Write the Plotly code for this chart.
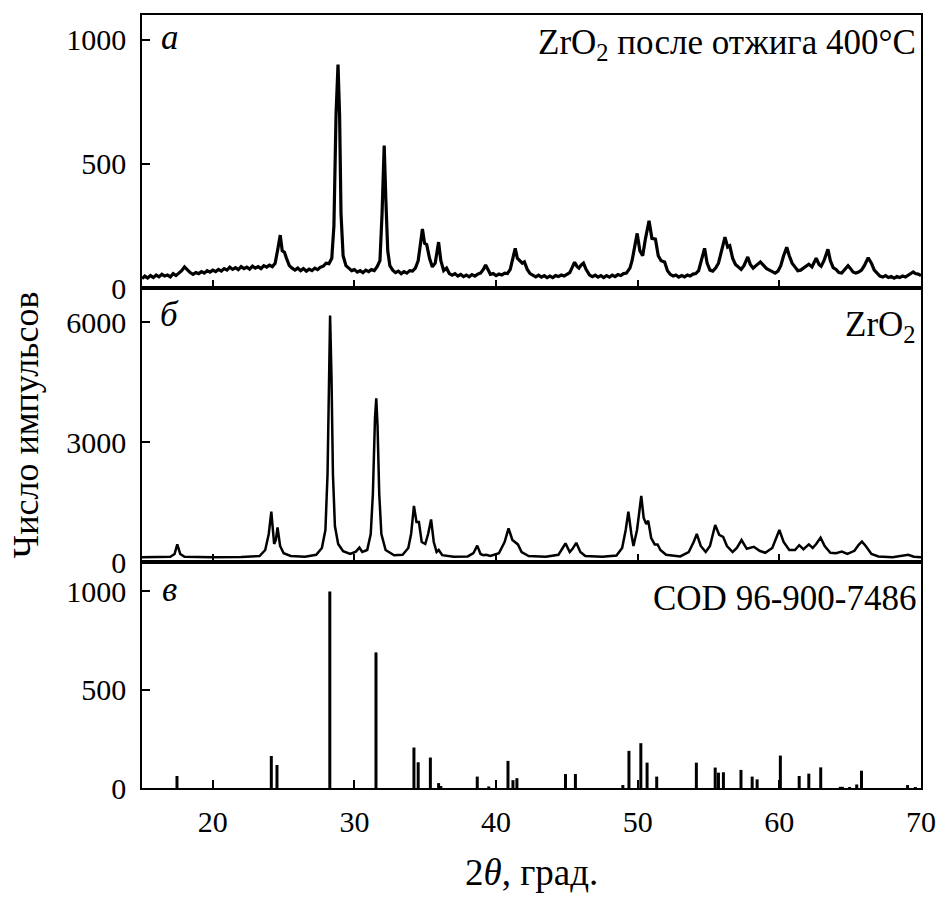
import plotly.graph_objects as go

# ---------------- data ----------------
# Panel a: ZrO2 after annealing 400 C (2theta, counts)
xa = [15.0,15.2,15.4,15.6,15.8,16.0,16.2,16.4,16.6,16.8,17.0,17.2,17.4,17.6,17.8,18.0,18.2,18.4,18.6,18.8,
      19.0,19.2,19.4,19.6,19.8,20.0,20.2,20.4,20.6,20.8,21.0,21.2,21.4,21.6,21.8,22.0,22.2,22.4,22.6,22.8,
      23.0,23.2,23.4,23.6,23.8,24.0,24.2,24.4,24.6,24.76,24.9,25.05,25.2,25.4,25.6,25.8,26.0,26.2,26.4,26.6,
      26.8,27.0,27.2,27.4,27.6,27.8,28.0,28.2,28.4,28.55,28.7,28.84,28.95,29.05,29.2,29.4,29.6,29.8,30.0,30.2,
      30.4,30.6,30.8,31.0,31.2,31.4,31.6,31.8,31.95,32.1,32.22,32.35,32.5,32.7,32.9,33.1,33.3,33.5,33.7,33.9,
      34.1,34.3,34.5,34.8,34.95,35.1,35.3,35.5,35.7,35.94,36.1,36.3,36.5,36.7,36.9,37.1,37.3,37.5,37.7,37.9,
      38.1,38.3,38.5,38.7,38.9,39.1,39.26,39.45,39.6,39.8,40.0,40.2,40.4,40.6,40.8,41.0,41.2,41.35,41.5,41.7,
      41.85,42.0,42.2,42.4,42.6,42.8,43.0,43.2,43.4,43.6,43.8,44.0,44.2,44.4,44.6,44.8,45.0,45.2,45.35,45.54,
      45.7,45.85,46.0,46.17,46.35,46.6,46.8,47.0,47.2,47.4,47.6,47.8,48.0,48.2,48.4,48.6,48.8,49.0,49.2,49.45,
      49.6,49.8,49.96,50.15,50.35,50.55,50.8,51.0,51.25,51.45,51.65,51.9,52.1,52.3,52.5,52.7,52.9,53.1,53.3,53.5,
      53.7,53.9,54.1,54.3,54.5,54.72,54.9,55.1,55.3,55.5,55.7,55.9,56.16,56.35,56.5,56.7,56.9,57.1,57.3,57.5,
      57.77,57.95,58.15,58.35,58.66,58.9,59.1,59.3,59.5,59.7,59.9,60.1,60.3,60.52,60.7,60.9,61.1,61.3,61.5,61.7,
      61.9,62.08,62.3,62.45,62.6,62.8,62.95,63.15,63.43,63.6,63.8,64.0,64.2,64.4,64.6,64.85,65.0,65.2,65.4,65.6,
      65.8,66.0,66.27,66.5,66.7,66.9,67.1,67.3,67.5,67.7,67.9,68.1,68.3,68.5,68.7,68.9,69.1,69.3,69.45,69.6,
      69.8,70.0]
ya = [38,48,40,50,42,52,45,55,48,52,45,58,50,60,70,85,72,62,55,62,
      58,66,60,70,64,72,66,75,68,78,72,84,75,82,74,86,78,84,76,88,
      80,86,78,90,84,92,86,100,160,213,150,145,120,90,80,72,80,70,78,68,
      76,70,80,74,84,88,100,98,120,250,700,900,700,300,130,90,80,70,74,64,
      70,62,72,66,74,70,86,110,300,574,350,150,90,72,62,68,58,66,60,70,
      68,80,110,238,180,175,120,85,100,185,110,70,80,58,52,58,48,55,46,52,
      45,54,48,56,60,75,93,72,55,58,50,56,52,60,58,75,120,160,120,110,
      100,105,75,58,50,45,52,44,50,42,48,42,50,46,52,48,55,62,80,104,
      88,80,92,100,75,52,46,52,44,50,42,50,44,52,46,54,50,58,60,80,
      110,180,220,150,130,200,271,200,197,130,110,105,70,55,48,52,44,50,45,52,
      48,56,58,70,110,160,100,72,68,80,100,150,205,165,170,120,95,85,75,90,
      125,95,80,90,105,90,78,72,65,60,68,90,130,164,130,100,85,70,72,80,
      88,96,85,100,120,95,88,110,156,110,82,75,62,60,75,90,80,65,60,64,
      72,90,122,100,72,58,48,44,50,42,46,40,46,42,48,44,52,60,65,58,
      56,50]

# Panel b: ZrO2
xb = [15.0,16.0,17.0,17.3,17.49,17.7,18.0,20.0,22.0,23.3,23.7,23.95,24.13,24.33,24.45,24.57,24.75,25.0,25.5,26.5,
      27.3,27.7,27.95,28.1,28.2,28.28,28.38,28.48,28.62,28.85,29.2,29.7,30.1,30.35,30.55,30.9,31.15,31.3,31.45,31.54,
      31.63,31.75,31.9,32.2,32.8,33.4,33.8,34.0,34.2,34.38,34.55,34.75,35.0,35.2,35.41,35.6,35.8,35.95,36.2,37.0,
      38.0,38.4,38.67,38.9,39.1,39.3,39.6,40.2,40.6,40.88,41.15,41.4,41.54,41.8,42.3,43.5,44.4,44.7,44.9,45.2,
      45.4,45.66,45.95,46.3,47.5,48.5,48.9,49.15,49.34,49.55,49.7,49.95,50.1,50.25,50.42,50.6,50.74,50.95,51.2,51.4,
      51.6,52.0,53.0,53.6,53.95,54.17,54.45,54.8,55.1,55.47,55.75,56.03,56.3,56.7,57.0,57.33,57.7,57.95,58.2,58.6,
      59.0,59.5,59.8,60.0,60.3,60.7,61.1,61.4,61.7,62.08,62.35,62.6,62.91,63.2,63.6,64.0,64.41,64.8,65.3,65.6,
      65.83,66.1,66.5,67.0,68.0,68.8,69.1,69.5,70.0]
yb = [120,120,130,200,440,200,130,120,125,150,300,700,1260,450,550,865,400,220,150,130,
      180,350,800,2200,4800,6160,4600,2200,900,450,270,200,260,360,250,300,700,1700,3600,4090,
      3400,1700,700,300,170,180,350,700,1400,1000,1000,500,450,700,1065,500,250,300,170,130,
      140,220,410,200,170,180,150,220,500,840,550,470,440,250,150,130,180,350,465,250,
      330,480,250,150,130,160,350,800,1260,700,400,800,1300,1650,1100,950,1035,600,440,440,
      300,180,140,250,500,700,400,250,400,925,680,630,400,250,350,550,330,360,380,280,
      230,350,650,800,500,300,300,420,320,440,350,450,610,400,230,220,260,200,280,430,
      510,400,200,140,120,150,180,130,120]

# Panel c: reference pattern COD 96-900-7486 (stick positions, intensities)
xc = [17.47,24.13,24.53,28.26,31.52,34.2,34.5,35.36,35.94,36.1,38.67,39.48,40.84,41.19,41.47,
      44.9,45.6,48.95,49.38,50.22,50.66,51.34,54.14,55.47,55.7,56.05,57.29,58.08,58.43,60.07,
      61.4,62.08,62.92,64.3,64.45,64.96,65.46,65.8,69.05,69.6]
yc = [61,163,117,1000,690,206,131,155,25,10,58,8,138,40,50,
      71,71,15,189,228,129,58,129,104,78,80,92,58,44,165,
      61,73,105,6,6,5,18,88,15,5]

x_ticks = [20, 30, 40, 50, 60, 70]
ticks_a = [0, 500, 1000]
ticks_b = [0, 3000, 6000]
ticks_c = [0, 500, 1000]

labels_panel = ["а", "б", "в"]
titles_panel = ["ZrO<sub>2</sub> после отжига 400°C", "ZrO<sub>2</sub>", "COD 96-900-7486"]
x_title = "2<i>θ</i>, град."
y_title = "Число импульсов"

# ---------------- figure ----------------
W, H = 948, 899
L, R, T, B = 142, 19, 15, 111
ph = H - T - B
y_a_bot, y_b_bot = 288, 562  # pixel boundaries
def frac(py):
    return (H - B - py) / ph

dom_c = [0, frac(y_b_bot)]
dom_b = [frac(y_b_bot), frac(y_a_bot)]
dom_a = [frac(y_a_bot), 1]

FONT = "Liberation Serif, Tinos, Times New Roman, DejaVu Serif, serif"

# stick segments from data
sx, sy = [], []
for xv, yv in zip(xc, yc):
    sx += [xv, xv, None]
    sy += [0, yv, None]

fig = go.Figure()
fig.add_trace(go.Scatter(x=xa, y=ya, mode="lines", line=dict(color="black", width=3.2),
                         xaxis="x3", yaxis="y3", showlegend=False))
fig.add_trace(go.Scatter(x=xb, y=yb, mode="lines", line=dict(color="black", width=2.5),
                         xaxis="x2", yaxis="y2", showlegend=False))
fig.add_trace(go.Scatter(x=sx, y=sy, mode="lines", line=dict(color="black", width=3),
                         xaxis="x", yaxis="y", showlegend=False))

axis_common = dict(showline=True, linecolor="black", linewidth=1.5, mirror=True,
                   ticks="inside", ticklen=8, tickwidth=1.5, tickcolor="black",
                   showgrid=False, zeroline=False,
                   tickfont=dict(family=FONT, size=30, color="black"))

xcommon = dict(axis_common, range=[15, 70], tickvals=x_ticks)
fig.update_layout(
    xaxis=dict(xcommon, anchor="y", ticklabelstandoff=6),
    xaxis2=dict(xcommon, anchor="y2", matches="x", showticklabels=False),
    xaxis3=dict(xcommon, anchor="y3", matches="x", showticklabels=False),
    yaxis=dict(axis_common, domain=dom_c, range=[0, 1150], tickvals=ticks_c, anchor="x", ticklabelstandoff=8),
    yaxis2=dict(axis_common, domain=dom_b, range=[0, 6850], tickvals=ticks_b, anchor="x2", ticklabelstandoff=8),
    yaxis3=dict(axis_common, domain=dom_a, range=[0, 1100], tickvals=ticks_a, anchor="x3", ticklabelstandoff=8),
    width=W, height=H,
    margin=dict(l=L, r=R, t=T, b=B),
    plot_bgcolor="white", paper_bgcolor="white",
    font=dict(family=FONT, color="black"),
)

def px_x(px):
    return (px - L) / (W - L - R)

annots = []
label_y = [38, 315, 590]
title_y = [45, 326, 598]
for lab, ty, ly, tt in zip(labels_panel, title_y, label_y, titles_panel):
    annots.append(dict(text="<i>" + lab + "</i>", x=px_x(170), y=frac(ly), xref="paper", yref="paper",
                       xanchor="center", yanchor="middle", showarrow=False,
                       font=dict(family=FONT, size=35, color="black")))
    annots.append(dict(text=tt, x=px_x(926), y=frac(ty), xref="paper", yref="paper",
                       xanchor="right", yanchor="middle", showarrow=False,
                       font=dict(family=FONT, size=35, color="black")))
annots.append(dict(text=x_title, x=px_x(535), y=frac(872), xref="paper", yref="paper",
                   xanchor="center", yanchor="middle", showarrow=False,
                   font=dict(family=FONT, size=37, color="black")))
annots.append(dict(text=y_title, x=px_x(25), y=frac(425), xref="paper", yref="paper",
                   xanchor="center", yanchor="middle", textangle=-90, showarrow=False,
                   font=dict(family=FONT, size=36, color="black")))
fig.update_layout(annotations=annots)

fig.write_html("out.html")
